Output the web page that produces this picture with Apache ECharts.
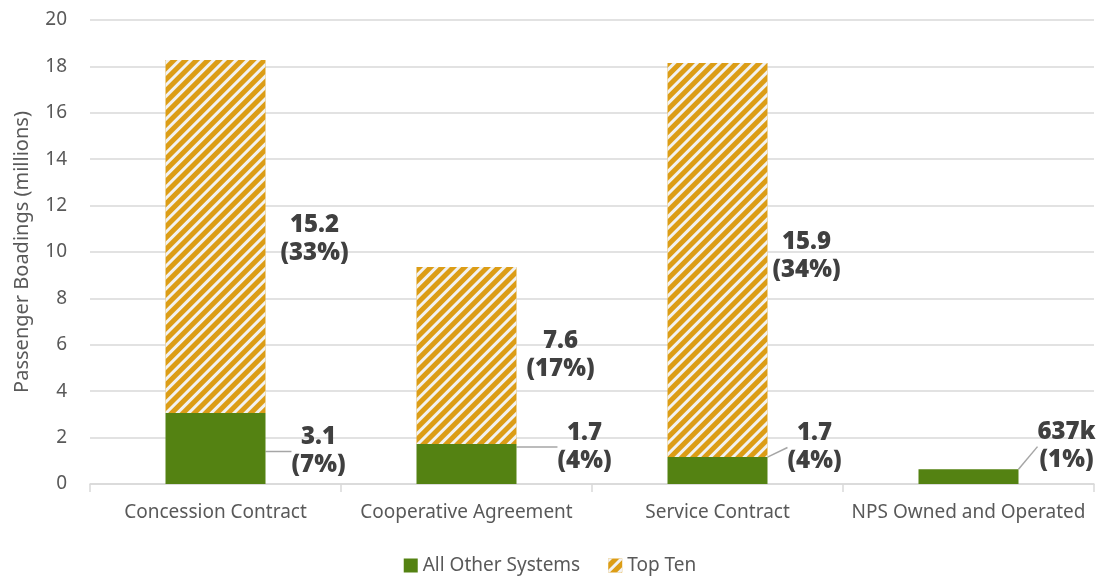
<!DOCTYPE html>
<html>
<head>
<meta charset="utf-8">
<script src="https://cdn.jsdelivr.net/npm/echarts@6/dist/echarts.min.js"></script>
<style>
  html, body { margin: 0; padding: 0; background: #fff; }
  #chart { width: 1100px; height: 580px; }
</style>
</head>
<body>
<div id="chart"></div>
<script>
// values (millions of boardings)
const categories = ['Concession Contract', 'Cooperative Agreement', 'Service Contract', 'NPS Owned and Operated']
const otherSystems = [3.06, 1.72, 1.16, 0.637]
const topTen = [15.22, 7.63, 16.99, null]
const otherLabels = ['3.1\n(7%)', '1.7\n(4%)', '1.7\n(4%)', '637k\n(1%)']
const topLabels = ['15.2\n(33%)', '7.6\n(17%)', '15.9\n(34%)', '']
const yTicks = [0, 2, 4, 6, 8, 10, 12, 14, 16, 18, 20]

// label nudges (px, from bar's right edge) so the call-outs sit like the original
const otherShift = [[53, 3], [68, -17], [47, -23], [48, -30]]
const topShift = [[49, 3], [44, 0], [39, -4], [0, 0]]

const chart = echarts.init(document.getElementById('chart'))

const labelText = {
  fontFamily: 'Noto Sans',
  fontWeight: 900,
  fontSize: 24,
  lineHeight: 28,
  color: '#404040',
  align: 'center'
}

const axisFont = { fontFamily: 'Noto Sans', fontSize: 19, color: '#595959' }

const option = {
  animation: false,
  grid: { left: 90, right: 6, top: 20, bottom: 96 },
  legend: {
    bottom: 0,
    left: 'center',
    itemWidth: 14,
    itemHeight: 14,
    itemGap: 28,
    textStyle: axisFont,
    data: [{ name: 'All Other Systems', icon: 'rect' }, { name: 'Top Ten', icon: 'rect' }]
  },
  xAxis: {
    type: 'category',
    data: categories,
    axisLine: { lineStyle: { color: '#d9d9d9', width: 1.5 } },
    axisTick: { show: true, length: 8, lineStyle: { color: '#d9d9d9', width: 1.5 } },
    axisLabel: { ...axisFont, interval: 0, margin: 19 }
  },
  yAxis: {
    type: 'value',
    min: 0,
    max: yTicks[yTicks.length - 1],
    interval: 2,
    name: 'Passenger Boadings (millions)',
    nameLocation: 'middle',
    nameGap: 58,
    nameTextStyle: { fontFamily: 'Noto Sans', fontSize: 20, color: '#595959' },
    axisLabel: { ...axisFont, margin: 23 },
    splitLine: { lineStyle: { color: '#d9d9d9', width: 1.5 } }
  },
  series: [
    {
      name: 'All Other Systems',
      type: 'bar',
      stack: 'total',
      barWidth: 100,
      itemStyle: { color: '#548212' },
      data: otherSystems,
      label: {
        show: true,
        position: 'right',
        distance: 0,
        formatter: p => otherLabels[p.dataIndex],
        ...labelText
      },
      labelLine: { show: true, lineStyle: { color: '#a6a6a6', width: 1.5 } },
      labelLayout: p => ({ dx: otherShift[p.dataIndex][0], dy: otherShift[p.dataIndex][1] })
    },
    {
      name: 'Top Ten',
      type: 'bar',
      stack: 'total',
      barWidth: 100,
      itemStyle: {
        color: '#dc9d16',
        decal: {
          symbol: 'rect',
          symbolSize: 1,
          color: '#f2f2f2',
          dashArrayX: [1, 0],
          dashArrayY: [2.5, 4.5],
          rotation: -Math.PI / 4
        }
      },
      data: topTen,
      label: {
        show: true,
        position: 'right',
        distance: 0,
        formatter: p => topLabels[p.dataIndex],
        ...labelText
      },
      labelLayout: p => ({ dx: topShift[p.dataIndex][0], dy: topShift[p.dataIndex][1] })
    }
  ]
}

chart.setOption(option)
window.addEventListener('resize', () => chart.resize())
</script>
</body>
</html>
